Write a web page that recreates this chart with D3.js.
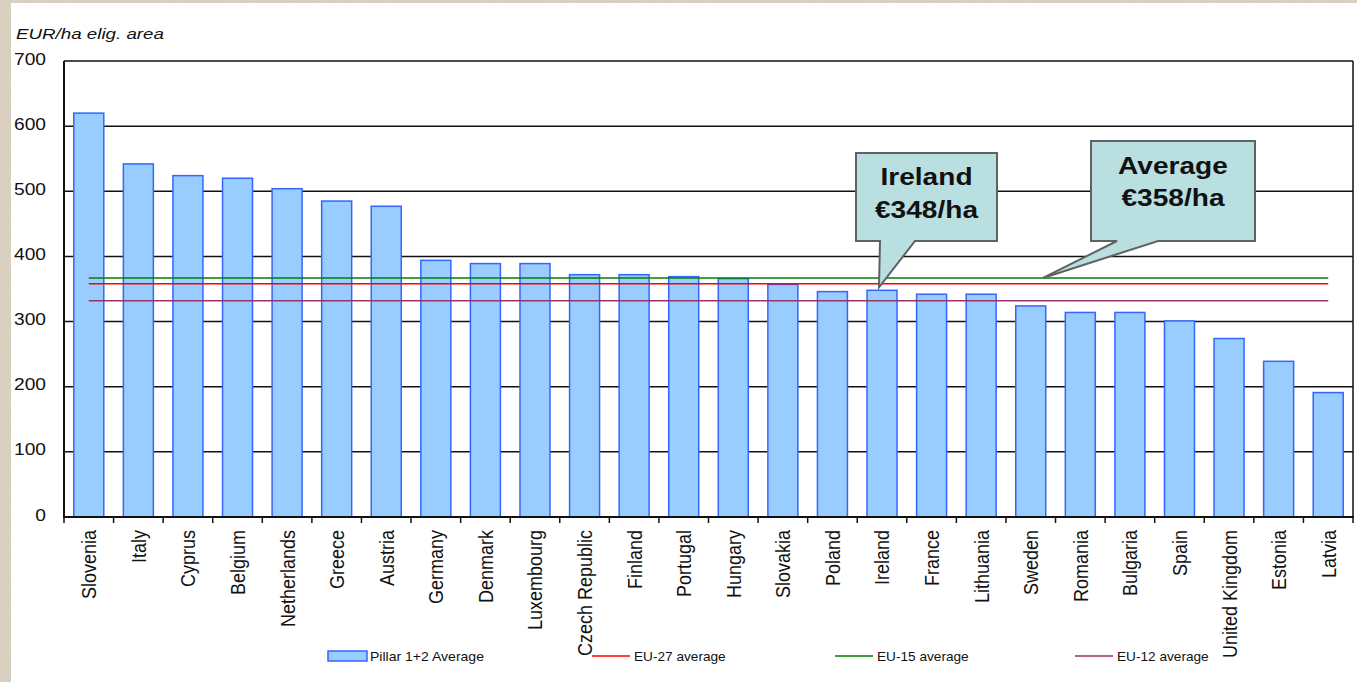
<!DOCTYPE html>
<html>
<head>
<meta charset="utf-8">
<script src="https://cdn.jsdelivr.net/npm/d3@7"></script>
<style>
  html, body { margin: 0; padding: 0; background: #ddd3c3; }
  svg { display: block; font-family: Arial, "Liberation Sans", sans-serif; }
</style>
</head>
<body>
<svg width="1357" height="682"></svg>
<script>
// data
var countries = ["Slovenia", "Italy", "Cyprus", "Belgium", "Netherlands", "Greece", "Austria",
  "Germany", "Denmark", "Luxembourg", "Czech Republic", "Finland", "Portugal", "Hungary",
  "Slovakia", "Poland", "Ireland", "France", "Lithuania", "Sweden", "Romania", "Bulgaria",
  "Spain", "United Kingdom", "Estonia", "Latvia"]
var pillarAvg = [620, 542, 524, 520, 504, 485, 477, 394, 389, 389, 372, 372, 369, 366,
  357, 346, 348, 342, 342, 324, 314, 314, 301, 274, 239, 191]
var yTicks = [0, 100, 200, 300, 400, 500, 600, 700]
var averages = [
  {name: "EU-27 average", value: 358, color: "#ff0000"},
  {name: "EU-15 average", value: 367, color: "#008000"},
  {name: "EU-12 average", value: 332, color: "#993366"}
]
var legendLabels = ["Pillar 1+2 Average", "EU-27 average", "EU-15 average", "EU-12 average"]

var svg = d3.select("svg")
var SX = 1.2  // the source picture is stretched sideways

// textured beige frame + white sheet
var defs = svg.append("defs")
var f = defs.append("filter").attr("id", "grain")
f.append("feTurbulence").attr("type", "fractalNoise").attr("baseFrequency", 0.8).attr("numOctaves", 2).attr("result", "n")
f.append("feColorMatrix").attr("in", "n").attr("type", "matrix")
  .attr("values", "0 0 0 0 0.55  0 0 0 0 0.5  0 0 0 0 0.42  0 0 0 0.35 0")
svg.append("rect").attr("width", 1357).attr("height", 682).attr("fill", "#ded4c4")
svg.append("rect").attr("width", 1357).attr("height", 682).attr("filter", "url(#grain)")
svg.append("rect").attr("x", 11).attr("y", 3).attr("width", 1346).attr("height", 679).attr("fill", "#fff")

var x = d3.scaleBand().domain(countries).range([64, 1353]).paddingInner(0.395).paddingOuter(0.1975)
var y = d3.scaleLinear().domain([0, 700]).range([517, 61])
var step = x.step()

// gridlines
svg.append("g").selectAll("line")
  .data(yTicks.filter(d => d > 0))
  .enter().append("line")
  .attr("x1", 64).attr("x2", 1353)
  .attr("y1", d => y(d)).attr("y2", d => y(d))
  .attr("stroke", "#111").attr("stroke-width", 1.5)

// right border
svg.append("line").attr("x1", 1353).attr("x2", 1353).attr("y1", y(700)).attr("y2", y(0))
  .attr("stroke", "#111").attr("stroke-width", 1.5)

// bars
svg.append("g").selectAll("rect")
  .data(countries)
  .enter().append("rect")
  .attr("x", d => x(d))
  .attr("y", (d, i) => y(pillarAvg[i]))
  .attr("width", x.bandwidth())
  .attr("height", (d, i) => y(0) - y(pillarAvg[i]))
  .attr("fill", "#99ccff")
  .attr("stroke", "#3366ff")
  .attr("stroke-width", 1.5)

// average lines
var lx1 = x(countries[0]) + x.bandwidth() / 2
var lx2 = x(countries[countries.length - 1]) + x.bandwidth() / 2
svg.append("g").selectAll("line")
  .data(averages)
  .enter().append("line")
  .attr("x1", lx1).attr("x2", lx2)
  .attr("y1", d => y(d.value)).attr("y2", d => y(d.value))
  .attr("stroke", d => d.color).attr("stroke-width", 1.5)

// axes
svg.append("line").attr("x1", 64).attr("x2", 64).attr("y1", y(700)).attr("y2", y(0))
  .attr("stroke", "#111").attr("stroke-width", 2)
svg.append("line").attr("x1", 63).attr("x2", 1354).attr("y1", y(0)).attr("y2", y(0))
  .attr("stroke", "#111").attr("stroke-width", 2)
svg.append("g").selectAll("line")
  .data(d3.range(countries.length + 1))
  .enter().append("line")
  .attr("x1", i => 64 + i * step).attr("x2", i => 64 + i * step)
  .attr("y1", y(0)).attr("y2", y(0) + 6)
  .attr("stroke", "#111").attr("stroke-width", 1.5)

// y tick labels
svg.append("g").selectAll("text")
  .data(yTicks)
  .enter().append("text")
  .attr("transform", d => "translate(46," + (y(d) - 2) + ") scale(" + SX + ",1)")
  .attr("text-anchor", "end")
  .attr("dy", "0.35em")
  .attr("font-size", 16)
  .attr("fill", "#111")
  .text(d => d)

// unit label
svg.append("text")
  .attr("transform", "translate(16,39) scale(1.25,1)")
  .attr("font-size", 15).attr("font-style", "italic").attr("fill", "#111")
  .text("EUR/ha elig. area")

// category labels
svg.append("g").selectAll("text")
  .data(countries)
  .enter().append("text")
  .attr("transform", d => "translate(" + (x(d) + x.bandwidth() / 2) + ",530) scale(1.15,1) rotate(-90)")
  .attr("text-anchor", "end")
  .attr("dy", "0.36em")
  .attr("font-size", 18)
  .attr("fill", "#111")
  .text(d => d)

// legend
var lg = svg.append("g").attr("font-size", 13).attr("fill", "#111")
lg.append("rect").attr("x", 328).attr("y", 651).attr("width", 39).attr("height", 10)
  .attr("fill", "#99ccff").attr("stroke", "#3366ff").attr("stroke-width", 1.5)
lg.append("text").attr("transform", "translate(370,661) scale(1.08,1)").text(legendLabels[0])
var legendX = [592, 835, 1075]
averages.forEach(function (a, i) {
  lg.append("line").attr("x1", legendX[i]).attr("x2", legendX[i] + 38)
    .attr("y1", 656).attr("y2", 656).attr("stroke", a.color).attr("stroke-width", 1.5)
  lg.append("text").attr("transform", "translate(" + (legendX[i] + 42) + ",661) scale(1.05,1)")
    .text(legendLabels[i + 1])
})

// callouts
function callout(bx0, by0, bx1, by1, p0, p1, tip, lines, tops) {
  var path = "M" + bx0 + "," + by0 + "H" + bx1 + "V" + by1 + "H" + p1 + "L" + tip[0] + "," + tip[1] +
    "L" + p0 + "," + by1 + "H" + bx0 + "Z"
  svg.append("path").attr("d", path)
    .attr("fill", "#b9dfe0").attr("stroke", "#5f6262").attr("stroke-width", 2)
  lines.forEach(function (t, i) {
    svg.append("text")
      .attr("transform", "translate(" + ((bx0 + bx1) / 2) + "," + tops[i] + ") scale(1.17,1)")
      .attr("text-anchor", "middle").attr("font-size", 24).attr("font-weight", "bold")
      .attr("fill", "#111").text(t)
  })
}
var irl = countries.indexOf("Ireland")
callout(856, 153, 997, 241, 880, 915,
  [x("Ireland") + x.bandwidth() / 2 - 3, y(pillarAvg[irl]) - 3],
  ["Ireland", "\u20ac348/ha"], [185, 218])
callout(1091, 141, 1255, 241, 1117, 1158,
  [1043, y(averages[1].value)],
  ["Average", "\u20ac358/ha"], [174, 206])
</script>
</body>
</html>
